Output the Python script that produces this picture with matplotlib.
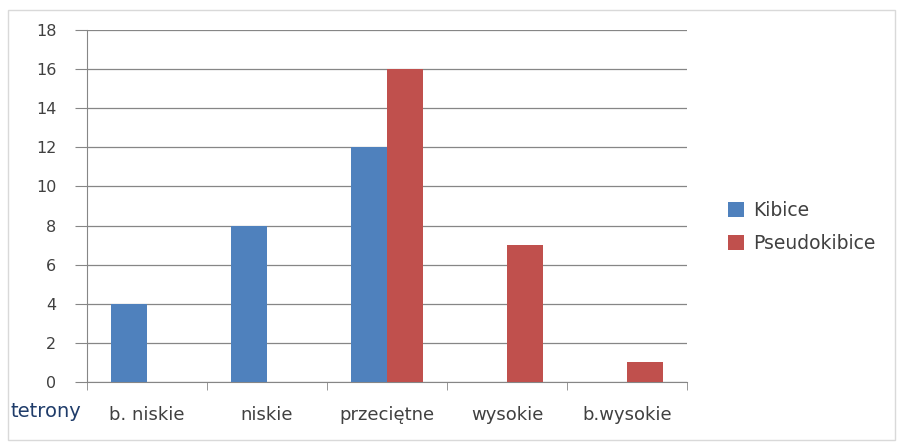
import numpy as np
import matplotlib
matplotlib.use("Agg")
import matplotlib.pyplot as plt
from matplotlib.patches import Rectangle

plt.rcParams['font.family'] = ['DejaVu Sans']

# dane
kategorie = ['b. niskie', 'niskie', 'przeciętne', 'wysokie', 'b.wysokie']
kibice = [4, 8, 12, 0, 0]
pseudokibice = [0, 0, 16, 7, 1]
y_ticks = list(range(0, 19, 2))

fig = plt.figure(figsize=(9, 4.43), dpi=100)
ax = fig.add_axes([0.0967, 0.1377, 0.667, 0.7945])

# ramka wykresu
fig.patches.append(Rectangle((0.009, 0.007), 0.985, 0.97, transform=fig.transFigure,
                             fill=False, edgecolor='#d9d9d9', linewidth=1))

x = np.arange(len(kategorie))
w = 0.3
ax.bar(x - w / 2, kibice, width=w, color='#4F81BD', label='Kibice', zorder=3)
ax.bar(x + w / 2, pseudokibice, width=w, color='#C0504D', label='Pseudokibice', zorder=3)

ax.set_xlim(-0.5, len(kategorie) - 0.5)
ax.set_ylim(0, 18)
ax.set_yticks(y_ticks)
ax.set_yticklabels([str(v) for v in y_ticks], fontsize=11.5, color='#404040')
ax.yaxis.grid(True, color='#868686', linewidth=0.9, zorder=0)
ax.tick_params(axis='y', length=9, color='#868686', pad=13)

ax.set_xticks(x)
ax.set_xticklabels(kategorie, fontsize=13, color='#404040')
ax.set_xticks(np.arange(-0.5, len(kategorie)), minor=True)
ax.tick_params(axis='x', which='major', length=0, pad=17)
ax.tick_params(axis='x', which='minor', length=6, color='#868686')

for s in ['top', 'right']:
    ax.spines[s].set_visible(False)
for s in ['left', 'bottom']:
    ax.spines[s].set_color('#868686')

fig.text(0.012, 0.072, 'tetrony', fontsize=14, color='#1f3c6a', va='center', ha='left')

fig.legend(loc='center left', bbox_to_anchor=(0.79, 0.487), frameon=False,
           fontsize=13.5, handlelength=0.85, handleheight=0.85, labelspacing=0.75,
           handletextpad=0.5, labelcolor='#404040')

fig.savefig('out.png', dpi=100)
